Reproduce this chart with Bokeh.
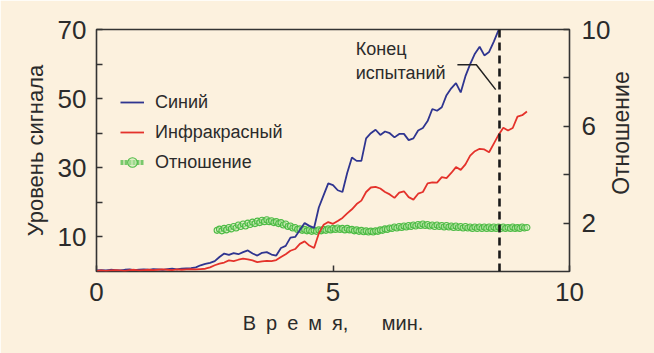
import math
from bokeh.plotting import figure
from bokeh.models import (Range1d, LinearAxis, FixedTicker, Span, Label, Legend, LegendItem, Title)
from bokeh.embed import file_html
from bokeh.resources import INLINE

# ---------------- data ----------------
time_min = [0.0, 0.1, 0.2, 0.3, 0.4, 0.5, 0.6, 0.7, 0.8, 0.9,
            1.0, 1.1, 1.2, 1.3, 1.4, 1.5, 1.6, 1.7, 1.8, 1.9,
            2.0, 2.1, 2.2, 2.3, 2.4, 2.5, 2.6, 2.7, 2.8, 2.9,
            3.0, 3.1, 3.2, 3.3, 3.4, 3.5, 3.6, 3.7, 3.8, 3.9,
            4.0, 4.1, 4.2, 4.3, 4.4, 4.5, 4.6, 4.7, 4.8, 4.9,
            5.0, 5.1, 5.2, 5.3, 5.4, 5.5, 5.6, 5.7, 5.8, 5.9,
            6.0, 6.1, 6.2, 6.3, 6.4, 6.5, 6.6, 6.7, 6.8, 6.9,
            7.0, 7.1, 7.2, 7.3, 7.4, 7.5, 7.6, 7.7, 7.8, 7.9,
            8.0, 8.1, 8.2, 8.3, 8.4, 8.5, 8.6, 8.7, 8.8, 8.9,
            9.0, 9.1]

blue_signal = [0.3, 0.4, 0.3, 0.5, 0.4, 0.3, 0.5, 0.6, 0.4, 0.5, 0.6, 0.5, 0.7, 0.6, 0.5, 0.7, 0.8, 0.6, 0.8, 0.9, 1.0,
               1.2, 1.8, 2.2, 2.5, 3.0, 4.2, 5.2, 4.8, 5.3, 5.0,
               5.6, 6.1, 5.2, 4.6, 5.4, 5.6, 4.9, 4.6, 6.8, 7.4,
               9.8, 10.0, 12.0, 14.0, 13.2, 12.6, 18.5, 22.0, 25.5, 25.0,
               23.5, 23.0, 28.5, 33.0, 32.0, 32.0, 38.5, 40.0, 41.0, 39.5,
               40.5, 40.0, 38.8, 39.8, 39.8, 38.0, 38.5, 40.8, 41.5, 43.5,
               47.0, 46.5, 47.5, 51.0, 53.0, 54.5, 51.8, 56.5, 60.0, 63.0,
               65.0, 62.5, 63.5, 66.5, 69.8]

ir_signal = [0.2, 0.3, 0.2, 0.3, 0.4, 0.3, 0.2, 0.4, 0.5, 0.3, 0.4, 0.5, 0.4, 0.5, 0.6, 0.5, 0.4, 0.6, 0.5, 0.6, 0.7,
             0.6, 0.7, 0.8, 1.2, 1.8, 2.3, 2.6, 3.2, 3.0, 3.4,
             3.7, 3.5, 3.2, 2.7, 2.9, 3.1, 3.0, 3.3, 4.2, 5.0,
             6.0, 6.5, 8.0, 8.7, 7.5, 6.8, 11.0, 13.5, 14.3, 13.8,
             14.6, 15.5, 16.8, 18.0, 19.5, 20.5, 23.0, 24.3, 24.5, 24.0,
             23.0, 22.3, 21.3, 22.8, 23.2, 21.5, 20.8, 22.5, 23.0, 25.5,
             25.8, 25.7, 27.3, 27.0, 28.5, 30.2, 29.4, 31.0, 33.5, 34.8,
             35.5, 35.3, 34.5, 37.0, 39.5, 41.6, 40.8, 41.5, 44.8, 45.2, 46.3]

ratio_time = [2.55, 2.60, 2.65, 2.70, 2.75, 2.80, 2.85, 2.90, 2.95, 3.00,
              3.05, 3.10, 3.15, 3.20, 3.25, 3.30, 3.35, 3.40, 3.45, 3.50,
              3.55, 3.60, 3.65, 3.70, 3.75, 3.80, 3.85, 3.90, 3.95, 4.00,
              4.05, 4.10, 4.15, 4.20, 4.25, 4.30, 4.35, 4.40, 4.45, 4.50,
              4.55, 4.60, 4.65, 4.70, 4.75, 4.80, 4.85, 4.90, 4.95, 5.00,
              5.05, 5.10, 5.15, 5.20, 5.25, 5.30, 5.35, 5.40, 5.45, 5.50,
              5.55, 5.60, 5.65, 5.70, 5.75, 5.80, 5.85, 5.90, 5.95, 6.00,
              6.05, 6.10, 6.15, 6.20, 6.25, 6.30, 6.35, 6.40, 6.45, 6.50,
              6.55, 6.60, 6.65, 6.70, 6.75, 6.80, 6.85, 6.90, 6.95, 7.00,
              7.05, 7.10, 7.15, 7.20, 7.25, 7.30, 7.35, 7.40, 7.45, 7.50,
              7.55, 7.60, 7.65, 7.70, 7.75, 7.80, 7.85, 7.90, 7.95, 8.00,
              8.05, 8.10, 8.15, 8.20, 8.25, 8.30, 8.35, 8.40, 8.45, 8.50,
              8.55, 8.60, 8.65, 8.70, 8.75, 8.80, 8.85, 8.90, 8.95, 9.00,
              9.05, 9.10]

ratio_value = [1.70, 1.75, 1.68, 1.78, 1.72, 1.82, 1.76, 1.86, 1.80, 1.92,
               1.86, 1.96, 1.88, 2.00, 1.94, 2.04, 1.98, 2.08, 2.02, 2.12,
               2.06, 2.14, 2.06, 2.10, 2.02, 2.06, 1.98, 2.02, 1.92, 1.96,
               1.86, 1.88, 1.80, 1.82, 1.74, 1.76, 1.70, 1.74, 1.68, 1.72,
               1.66, 1.70, 1.66, 1.72, 1.68, 1.74, 1.70, 1.76, 1.72, 1.78,
               1.74, 1.80, 1.74, 1.78, 1.72, 1.78, 1.72, 1.74, 1.68, 1.72,
               1.66, 1.70, 1.64, 1.68, 1.63, 1.67, 1.63, 1.68, 1.66, 1.72,
               1.70, 1.76, 1.74, 1.80, 1.78, 1.84, 1.80, 1.86, 1.82, 1.88,
               1.84, 1.90, 1.86, 1.92, 1.88, 1.94, 1.90, 1.96, 1.90, 1.94,
               1.88, 1.92, 1.86, 1.92, 1.86, 1.90, 1.84, 1.90, 1.84, 1.88,
               1.82, 1.88, 1.82, 1.86, 1.80, 1.86, 1.80, 1.84, 1.78, 1.84,
               1.78, 1.84, 1.78, 1.84, 1.78, 1.84, 1.78, 1.84, 1.78, 1.84,
               1.78, 1.84, 1.78, 1.82, 1.78, 1.84, 1.78, 1.82, 1.78, 1.84,
               1.80, 1.82]

test_end_min = 8.52
x_ticks = [0, 5, 10]
left_ticks = [10, 20, 30, 40, 50, 60, 70]
left_tick_labels = {20: "", 40: "", 60: ""}
right_ticks = [2, 4, 6, 8, 10]
right_tick_labels = {4: "", 8: ""}

x_title = "В\u2002р\u2002е\u2002м\u2002я,\u00a0\u00a0\u00a0\u00a0\u00a0\u00a0мин."
left_title = "Уровень сигнала"
right_title = "Отношение"
legend_labels = ["Синий", "Инфракрасный", "Отношение"]
note_text = ["Конец", "испытаний"]
note_line_t = [7.63, 8.03, 8.44]
note_line_v = [59.8, 59.8, 52.6]

# ---------------- styling ----------------
BG = "#fcf1de"
TXT = "#2b2b2b"
FONT = "Liberation Sans"
BLUE = "#2f3590"
RED = "#e4322b"
GREEN = "#4dbb45"
GREEN_FILL = "#c4ebb0"

p = figure(width=654, height=353, output_backend="svg", toolbar_location=None,
           x_range=Range1d(0, 10), y_range=Range1d(0, 70),
           min_border_left=96, min_border_right=85, min_border_top=29, min_border_bottom=82)
p.extra_y_ranges = {"ratio": Range1d(0, 10)}

p.background_fill_color = BG
p.border_fill_color = BG
p.outline_line_color = "#333333"
p.outline_line_width = 1.6
p.grid.visible = False

def style_axis(ax):
    ax.axis_line_color = None
    ax.major_tick_in = 6
    ax.major_tick_out = 0
    ax.major_tick_line_color = "#333333"
    ax.major_tick_line_width = 1.5
    ax.minor_tick_line_color = None
    ax.major_label_text_font = FONT
    ax.major_label_text_font_size = "26px"
    ax.major_label_text_color = TXT
    ax.axis_label_text_font = FONT
    ax.axis_label_text_font_style = "normal"
    ax.axis_label_text_color = TXT

xa = p.xaxis[0]
style_axis(xa)
xa.ticker = FixedTicker(ticks=x_ticks)
xa.major_label_standoff = 11
xa.axis_label = x_title
xa.axis_label_text_font_size = "20px"
xa.axis_label_standoff = 8

ya = p.yaxis[0]
style_axis(ya)
ya.ticker = FixedTicker(ticks=left_ticks)
ya.major_label_overrides = left_tick_labels
ya.major_label_standoff = 10

ra = LinearAxis(y_range_name="ratio")
style_axis(ra)
ra.ticker = FixedTicker(ticks=right_ticks)
ra.major_label_overrides = right_tick_labels
ra.major_label_standoff = 12
ra.axis_label_text_font_size = "23px"
ra.axis_label_standoff = 8
props = ra.properties()
if "axis_label_orientation" in props and "axis_label_align" in props:
    # read bottom-to-top, starting a little above the bottom of the frame
    ra.axis_label_orientation = math.pi / 2
    ra.axis_label_align = "start"
    ra.axis_label = "\u00a0" * 12 + right_title
else:
    ra.axis_label = right_title
p.add_layout(ra, "right")

# left title as a side-panel title so it can sit slightly above the frame centre
p.add_layout(Title(text=left_title, align="center", offset=12, standoff=14,
                   text_font=FONT, text_font_size="22px", text_font_style="normal",
                   text_color=TXT), "left")

# ---------------- data glyphs ----------------
r_ratio = p.scatter(ratio_time, ratio_value, y_range_name="ratio", marker="circle", size=6,
                    line_color=GREEN, line_width=1.1, fill_color=GREEN_FILL, fill_alpha=0.5)
r_blue = p.line(time_min[:len(blue_signal)], blue_signal, line_color=BLUE, line_width=1.8)
r_red = p.line(time_min[:len(ir_signal)], ir_signal, line_color=RED, line_width=1.8)
r_ratio_leg = p.line(x=[float("nan")], y=[float("nan")], line_color=GREEN, line_width=5,
                     line_alpha=0.75, line_dash="3 1")

p.add_layout(Span(location=test_end_min, dimension="height", line_color="#1a1a1a",
                  line_width=2.6, line_dash="8 5"))

p.line(note_line_t, note_line_v, line_color="#222222", line_width=1.5)
p.add_layout(Label(x=5.48, y=64.5, text=note_text[0], text_align="left", text_baseline="middle",
                   text_font=FONT, text_font_size="18px", text_color=TXT))
p.add_layout(Label(x=5.48, y=57.5, text=note_text[1], text_align="left", text_baseline="middle",
                   text_font=FONT, text_font_size="18px", text_color=TXT))

legend = Legend(items=[LegendItem(label=legend_labels[0], renderers=[r_blue]),
                       LegendItem(label=legend_labels[1], renderers=[r_red]),
                       LegendItem(label=legend_labels[2], renderers=[r_ratio_leg, r_ratio])],
                location=(24, 94))
legend.background_fill_alpha = 0
legend.border_line_alpha = 0
legend.padding = 0
legend.margin = 0
legend.spacing = 0
legend.glyph_width = 24
legend.glyph_height = 30
legend.label_height = 30
legend.label_standoff = 11
legend.label_text_font = FONT
legend.label_text_font_size = "18px"
legend.label_text_color = TXT
p.add_layout(legend)

open("out.html", "w").write(file_html(p, INLINE))
